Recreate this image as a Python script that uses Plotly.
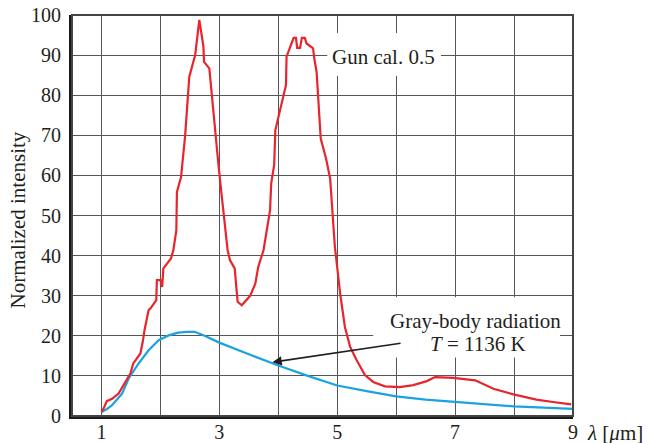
import plotly.graph_objects as go

# Measured spectrum from the gun calibration run (normalized intensity vs wavelength in um)
gun_wavelength = [1.00, 1.04, 1.09, 1.18, 1.29, 1.40, 1.45, 1.49, 1.54, 1.66, 1.70, 1.73,
                  1.80, 1.83, 1.93, 1.94, 2.00, 2.03, 2.05, 2.18, 2.22, 2.27, 2.28, 2.35,
                  2.42, 2.49, 2.59, 2.66, 2.73, 2.74, 2.83, 2.90, 2.98, 3.03, 3.14, 3.18,
                  3.26, 3.31, 3.38, 3.52, 3.61, 3.66, 3.75, 3.86, 3.88, 3.93, 3.95, 4.13,
                  4.14, 4.26, 4.30, 4.32, 4.37, 4.40, 4.45, 4.48, 4.59, 4.61, 4.65, 4.72,
                  4.81, 4.88, 4.92, 4.96, 5.05, 5.13, 5.22, 5.33, 5.47, 5.61, 5.81, 6.06,
                  6.29, 6.52, 6.66, 6.97, 7.34, 7.65, 7.99, 8.38, 8.66, 8.97]
gun_intensity = [1.0, 2.0, 3.7, 4.3, 5.6, 8.5, 9.8, 10.6, 13.1, 15.6, 18.5, 21.4,
                 26.4, 26.8, 28.9, 33.9, 33.9, 32.2, 36.8, 39.3, 41.4, 46.3, 55.9, 59.6,
                 70.0, 84.6, 90.0, 98.8, 92.1, 88.3, 86.7, 75.0, 63.4, 56.3, 41.4, 38.9,
                 36.8, 28.5, 27.6, 29.9, 33.0, 37.2, 41.4, 51.3, 58.0, 62.6, 71.3, 82.5,
                 89.6, 94.3, 94.3, 91.8, 91.8, 94.3, 94.3, 92.9, 91.7, 89.2, 85.8, 69.2,
                 64.2, 59.2, 50.1, 42.2, 30.5, 22.2, 17.2, 13.9, 10.2, 8.5, 7.4, 7.2,
                 7.7, 8.7, 9.7, 9.5, 8.9, 6.8, 5.4, 4.1, 3.5, 2.9]

# Gray-body reference curve at T = 1136 K
gray_wavelength = [1.00, 1.08, 1.18, 1.35, 1.46, 1.63, 1.80, 1.97, 2.14, 2.30, 2.45, 2.58,
                   2.75, 3.00, 3.50, 3.86, 4.00, 4.50, 5.00, 5.50, 6.00, 6.50, 7.00, 7.50,
                   8.00, 8.50, 9.00]
gray_intensity = [1.0, 1.6, 2.7, 5.6, 9.3, 13.1, 16.4, 18.9, 20.1, 20.8, 21.0, 21.0,
                  20.0, 18.3, 15.4, 13.3, 12.6, 10.0, 7.6, 6.2, 4.9, 4.1, 3.5, 2.9,
                  2.4, 2.1, 1.8]

x_ticks = [1, 2, 3, 4, 5, 6, 7, 8, 9]
x_ticktext = ["1", "", "3", "", "5", "", "7", "", "9"]
y_ticks = [0, 10, 20, 30, 40, 50, 60, 70, 80, 90, 100]

FONT = "Liberation Serif"
INK = "#231f20"
GRID = "#555555"

fig = go.Figure()
fig.add_trace(go.Scatter(x=gray_wavelength, y=gray_intensity, mode="lines",
                         line=dict(color="#1ba3e0", width=2.2), showlegend=False))
fig.add_trace(go.Scatter(x=gun_wavelength, y=gun_intensity, mode="lines",
                         line=dict(color="#e8242c", width=2.2), showlegend=False))

axis_common = dict(showgrid=True, gridcolor=GRID, gridwidth=1.4, zeroline=False,
                   showline=True, linecolor="#1a1a1a", linewidth=3, ticks="",
                   automargin=False,
                   tickfont=dict(family=FONT, size=20, color=INK))
fig.update_xaxes(range=[0.5, 9], tickvals=x_ticks, ticktext=x_ticktext,
                 ticklabelstandoff=-4, **axis_common)
fig.update_yaxes(range=[0, 100], tickvals=y_ticks, ticklabelstandoff=4, **axis_common)

# Frame on the top and right, plus white patches behind the labels
fig.add_shape(type="rect", xref="paper", yref="paper", x0=0, x1=1, y0=0, y1=1,
              line=dict(color="#444444", width=2), layer="above")
fig.add_shape(type="rect", xref="x", yref="y", x0=4.83, x1=6.76, y0=84.8, y1=95.5,
              fillcolor="white", line=dict(width=0), layer="between")
fig.add_shape(type="rect", xref="x", yref="y", x0=5.61, x1=8.78, y0=14.6, y1=29.6,
              fillcolor="white", line=dict(width=0), layer="between")

label_font = dict(family=FONT, size=21, color=INK)
fig.add_annotation(x=5.79, y=89.5, text="Gun cal. 0.5", showarrow=False,
                   font=label_font, xanchor="center", yanchor="middle")
fig.add_annotation(x=7.34, y=23.8, text="Gray-body radiation", showarrow=False,
                   font=label_font, xanchor="center", yanchor="middle")
fig.add_annotation(x=7.39, y=17.9, text="<i>T</i> = 1136 K", showarrow=False,
                   font=label_font, xanchor="center", yanchor="middle")
fig.add_annotation(x=3.90, y=13.4, ax=6.1, ay=18.2, axref="x", ayref="y", text="",
                   showarrow=True, arrowhead=2, arrowsize=1.1, arrowwidth=1.7,
                   arrowcolor=INK, standoff=0)

# Axis titles
fig.add_annotation(xref="paper", yref="paper", x=-0.108, y=0.49, text="Normalized intensity",
                   textangle=-90, showarrow=False, font=label_font,
                   xanchor="center", yanchor="middle")
fig.add_annotation(xref="paper", yref="paper", x=1.024, y=-0.042,
                   text="<i>λ</i> [<i>μ</i>m]", showarrow=False, font=label_font,
                   xanchor="left", yanchor="middle")

fig.update_layout(width=650, height=443, margin=dict(l=72, r=77, t=15, b=27),
                  plot_bgcolor="white", paper_bgcolor="white")

fig.write_html("out.html")
